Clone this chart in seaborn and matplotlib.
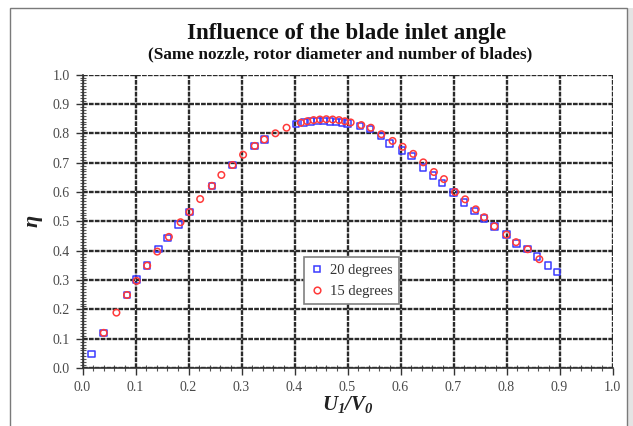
import matplotlib
matplotlib.use("Agg")
import matplotlib.pyplot as plt
from matplotlib.patches import Rectangle
from matplotlib.ticker import MultipleLocator
import pandas as pd
import seaborn as sns

# Efficiency vs. velocity ratio, blade inlet angle 20 degrees
ratio_20 = [0.017, 0.040, 0.084, 0.102, 0.122, 0.143, 0.160, 0.181, 0.202,
            0.244, 0.283, 0.325, 0.343, 0.403, 0.418, 0.431, 0.443, 0.455,
            0.467, 0.478, 0.490, 0.500, 0.524, 0.542, 0.563, 0.579, 0.603,
            0.621, 0.642, 0.661, 0.678, 0.700, 0.720, 0.740, 0.758, 0.777,
            0.800, 0.819, 0.840, 0.858, 0.878, 0.895]
eta_20 = [0.048, 0.120, 0.249, 0.301, 0.349, 0.406, 0.443, 0.490, 0.532,
          0.621, 0.692, 0.757, 0.779, 0.831, 0.836, 0.840, 0.842, 0.842,
          0.841, 0.839, 0.836, 0.833, 0.825, 0.815, 0.791, 0.766, 0.741,
          0.722, 0.684, 0.656, 0.631, 0.598, 0.564, 0.536, 0.509, 0.483,
          0.455, 0.425, 0.405, 0.380, 0.349, 0.327]

# Efficiency vs. velocity ratio, blade inlet angle 15 degrees
ratio_15 = [0.040, 0.064, 0.084, 0.102, 0.122, 0.141, 0.163, 0.185, 0.202,
            0.222, 0.244, 0.262, 0.283, 0.303, 0.325, 0.343, 0.364, 0.385,
            0.412, 0.424, 0.436, 0.448, 0.460, 0.472, 0.484, 0.495, 0.506,
            0.526, 0.544, 0.564, 0.585, 0.604, 0.624, 0.643, 0.663, 0.682,
            0.703, 0.722, 0.742, 0.758, 0.777, 0.800, 0.818, 0.840, 0.862]
eta_15 = [0.120, 0.189, 0.249, 0.297, 0.349, 0.397, 0.447, 0.497, 0.532,
          0.576, 0.621, 0.658, 0.692, 0.727, 0.757, 0.779, 0.800, 0.819,
          0.836, 0.841, 0.845, 0.847, 0.848, 0.847, 0.845, 0.841, 0.837,
          0.828, 0.819, 0.797, 0.774, 0.754, 0.730, 0.701, 0.668, 0.644,
          0.600, 0.575, 0.541, 0.514, 0.483, 0.455, 0.429, 0.405, 0.371]

series_labels = ["20 degrees", "15 degrees"]
x_ticks = [0.0, 0.1, 0.2, 0.3, 0.4, 0.5, 0.6, 0.7, 0.8, 0.9, 1.0]
y_ticks = [0.0, 0.1, 0.2, 0.3, 0.4, 0.5, 0.6, 0.7, 0.8, 0.9, 1.0]

df = pd.concat([
    pd.DataFrame({"ratio": ratio_20, "eta": eta_20, "angle": series_labels[0]}),
    pd.DataFrame({"ratio": ratio_15, "eta": eta_15, "angle": series_labels[1]}),
], ignore_index=True)

sns.set_theme(style="white")
plt.rcParams["font.family"] = ["Liberation Serif", "DejaVu Serif"]
plt.rcParams["mathtext.fontset"] = "custom"
plt.rcParams["mathtext.it"] = "Liberation Serif:bold:italic"
plt.rcParams["mathtext.rm"] = "Liberation Serif:bold:italic"

fig = plt.figure(figsize=(6.33, 4.26), dpi=100)
fig.patch.set_facecolor("white")

# outer chart frame with a faint shadow on the right
fig.patches.append(Rectangle((627 / 633, -0.05), 6 / 633, 1.05 - 8 / 426,
                             transform=fig.transFigure, facecolor="#e4e4e4",
                             edgecolor="none", zorder=-3))
fig.patches.append(Rectangle((10 / 633, -0.05), 617 / 633, 1.05 - 8 / 426,
                             transform=fig.transFigure, facecolor="white",
                             edgecolor="#7a7a7a", linewidth=1.0, zorder=-2))

ax = fig.add_axes([82.5 / 633, 1 - 368.1 / 426, 530 / 633, 293.5 / 426])
ax.set_facecolor("white")

palette = {"20 degrees": "#3a3aff", "15 degrees": "#ff3a3a"}
markers = {"20 degrees": "s", "15 degrees": "o"}
sns.scatterplot(data=df, x="ratio", y="eta", hue="angle", style="angle",
                palette=palette, markers=markers, s=22,
                linewidth=1.1, ax=ax, legend=False, zorder=3)
# hollow markers: hue colours go to the edges only
edge_colors = [palette[a] for a in df["angle"]]
ax.collections[0].set_edgecolors(edge_colors)
ax.collections[0].set_facecolors("none")

ax.set_xlim(0, 1.0)
ax.set_ylim(0, 1.0)
ax.set_xticks(x_ticks)
ax.set_yticks(y_ticks)
ax.set_xticklabels([f"{v:.1f}" for v in x_ticks])
ax.set_yticklabels([f"{v:.1f}" for v in y_ticks])
ax.xaxis.set_minor_locator(MultipleLocator(0.02))
ax.yaxis.set_minor_locator(MultipleLocator(0.01))

ax.grid(True, which="major", color="#2a2a2a", linewidth=1.7,
        linestyle=(0, (2.0, 0.5)), zorder=1)
ax.set_axisbelow(True)
ax.tick_params(axis="both", which="major", direction="out", length=5,
               width=1.0, color="#333333", labelsize=10, labelcolor="#4a4a4a",
               bottom=True, left=True, pad=4)
ax.tick_params(axis="both", which="minor", direction="inout", length=4,
               width=0.8, color="#555555", bottom=True, left=True)
for side in ["left", "bottom"]:
    ax.spines[side].set_color("#333333")
    ax.spines[side].set_linewidth(1.2)
for side in ["top", "right"]:
    ax.spines[side].set_visible(False)

ax.set_xlabel(r"$U_1/V_0$", fontsize=15, labelpad=0, color="#222222")
ax.set_ylabel("η", fontsize=16, fontweight="bold", fontstyle="italic",
              labelpad=7, color="#222222")

fig.text(347 / 633, 1 - 33 / 426, "Influence of the blade inlet angle",
         ha="center", va="center", fontsize=16.5, fontweight="bold",
         color="#111111")
fig.text(340 / 633, 1 - 54 / 426,
         "(Same nozzle, rotor diameter and number of blades)",
         ha="center", va="center", fontsize=12.4, fontweight="bold",
         color="#111111")

handles = [
    plt.Line2D([], [], linestyle="none", marker="s", markersize=4.8,
               markerfacecolor="none", markeredgecolor=palette["20 degrees"],
               markeredgewidth=1.1),
    plt.Line2D([], [], linestyle="none", marker="o", markersize=4.8,
               markerfacecolor="none", markeredgecolor=palette["15 degrees"],
               markeredgewidth=1.1),
]
leg = ax.legend(handles, series_labels, loc="center",
                bbox_to_anchor=(0.508, 0.298), frameon=True, fancybox=False,
                fontsize=10.5, handlelength=0.8, handletextpad=0.5,
                borderpad=0.45, labelspacing=0.55, framealpha=1)
leg.get_frame().set_edgecolor("#808080")
leg.get_frame().set_linewidth(1.2)
for t in leg.get_texts():
    t.set_color("#333333")

fig.savefig("out.png", dpi=100)
